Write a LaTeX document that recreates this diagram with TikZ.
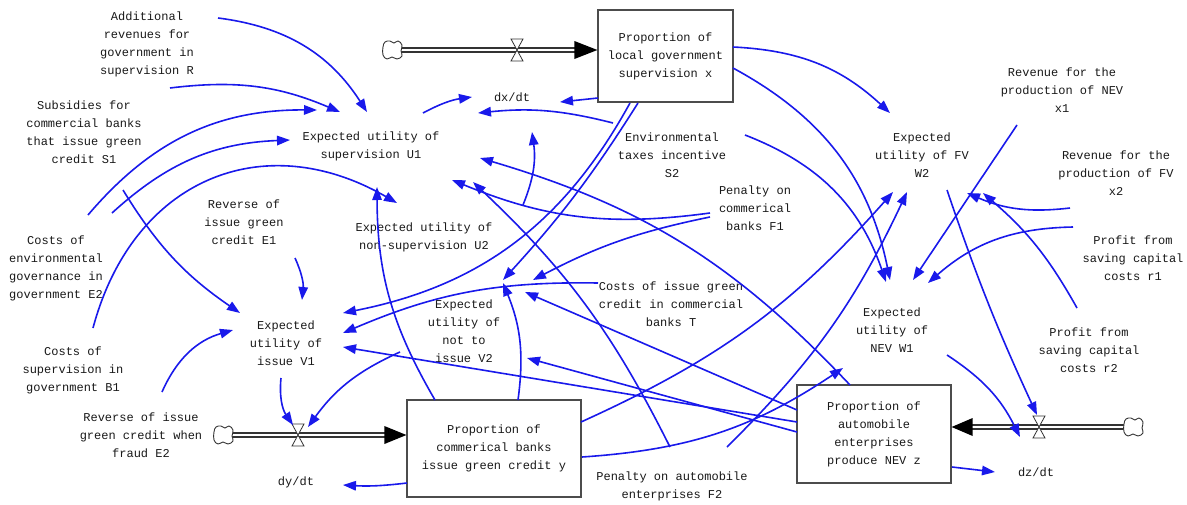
\documentclass[tikz,border=0pt]{standalone}
\usepackage{fontspec}
\setmonofont{Liberation Mono}
\usetikzlibrary{arrows.meta}
\definecolor{linkblue}{RGB}{25,25,235}
\begin{document}
\begin{tikzpicture}[x=1pt,y=1pt,
  lbl/.style={font=\ttfamily\fontsize{12}{18}\selectfont, align=center, inner sep=1pt, text=black!90},
  stock/.style={lbl, draw=black!70, line width=1.2pt, fill=white},
  link/.style={draw=linkblue, line width=1.6pt, -{Triangle[length=13pt,width=9.5pt]}},
  pipeline/.style={draw=black!80, line width=1.2pt},
  valvetri/.style={draw=black!80, fill=white, line width=0.8pt},
  cloudline/.style={draw=black!80, fill=white, line width=0.9pt},
  headfill/.style={fill=black}
]
\fill[white] (0,0) rectangle (1187,-504);
\useasboundingbox (0,0) rectangle (1187,-504);

% ---------- auxiliary labels ----------
\node[lbl] (R)   at (147,-44)  {Additional\\revenues for\\government in\\supervision R};
\node[lbl] (S1)  at (84,-132)  {Subsidies for\\commercial banks\\that issue green\\credit S1};
\node[lbl] (E2c) at (56,-268)  {Costs of\\environmental\\governance in\\government E2};
\node[lbl] (B1)  at (73,-370)  {Costs of\\supervision in\\government B1};
\node[lbl] (E2f) at (141,-435) {Reverse of issue\\green credit when\\fraud E2};
\node[lbl] (E1)  at (244,-222) {Reverse of\\issue green\\credit E1};
\node[lbl] (U1)  at (371,-146) {Expected utility of\\supervision U1};
\node[lbl] (U2)  at (424,-237) {Expected utility of\\non-supervision U2};
\node[lbl] (V1)  at (286,-343) {Expected\\utility of\\issue V1};
\node[lbl] (V2)  at (464,-331) {Expected\\utility of\\not to\\issue V2};
\node[lbl] (T)   at (671,-304) {Costs of issue green\\credit in commercial\\banks T};
\node[lbl] (S2)  at (672,-155) {Environmental\\taxes incentive\\S2};
\node[lbl] (F1)  at (755,-208) {Penalty on\\commerical\\banks F1};
\node[lbl] (F2)  at (672,-486) {Penalty on automobile\\enterprises F2};
\node[lbl] (W2)  at (922,-155) {Expected\\utility of FV\\W2};
\node[lbl] (x1)  at (1062,-90) {Revenue for the\\production of NEV\\x1};
\node[lbl] (x2)  at (1116,-173) {Revenue for the\\production of FV\\x2};
\node[lbl] (r1)  at (1133,-258) {Profit from\\saving capital\\costs r1};
\node[lbl] (r2)  at (1089,-350) {Profit from\\saving capital\\costs r2};
\node[lbl] (W1)  at (892,-330) {Expected\\utility of\\NEV W1};
\node[lbl] (dxdt) at (512,-97)  {dx/dt};
\node[lbl] (dydt) at (296,-482) {dy/dt};
\node[lbl] (dzdt) at (1036,-472) {dz/dt};

% ---------- stocks ----------
\node[stock, minimum width=135pt, minimum height=92pt] (X) at (665.5,-56) {Proportion of\\local government\\supervision x};
\node[stock, minimum width=174pt, minimum height=97pt] (Y) at (494,-448.5) {Proportion of\\commerical banks\\issue green credit y};
\node[stock, minimum width=154pt, minimum height=98pt] (Z) at (874,-434) {Proportion of\\automobile\\enterprises\\produce NEV z};

% ---------- flows ----------
\coordinate (cx) at (392,-50);
\coordinate (cy) at (223,-435);
\coordinate (cz) at (1133,-427);
\coordinate (vx) at (517,-50);
\coordinate (vy) at (298,-435);
\coordinate (vz) at (1039,-427);
\coordinate (xin) at (X.west |- cx);
\coordinate (yin) at (Y.west |- cy);
\coordinate (zin) at (Z.east |- cz);

\foreach \o in {2,-2}{
  \draw[pipeline] ([shift={(9,\o)}]cx) -- ([shift={(-20,\o)}]xin);
  \draw[pipeline] ([shift={(9,\o)}]cy) -- ([shift={(-20,\o)}]yin);
  \draw[pipeline] ([shift={(-9,\o)}]cz) -- ([shift={(19,\o)}]zin);
}
\fill[headfill] (xin) -- ++(-23,9) -- ++(0,-18) -- cycle;
\fill[headfill] (yin) -- ++(-22,9) -- ++(0,-18) -- cycle;
\fill[headfill] (zin) -- ++(21,9) -- ++(0,-18) -- cycle;

\foreach \c in {cx,cy,cz}{
  \begin{scope}[shift={(\c)}]
    \draw[cloudline] plot[smooth cycle, tension=0.7] coordinates {(-9,3) (-7,8) (-2,9) (2,7) (6,9) (10,5) (9,-1) (10,-6) (5,-9) (0,-7) (-5,-9) (-9,-5)};
  \end{scope}
}
\foreach \v in {vx,vy,vz}{
  \draw[valvetri] (\v) -- ++(-6,11) -- ++(12,0) -- cycle;
  \draw[valvetri] (\v) -- ++(-6,-11) -- ++(12,0) -- cycle;
}

% ---------- information links ----------
\draw[link] ([shift={(71,26)}]R.center) to[bend left=25] ([shift={(-4,34)}]U1.center);
\draw[link] ([shift={(23,-44)}]R.center) to[bend left=15] ([shift={(-31,34)}]U1.center);
\draw[link] ([shift={(32,53)}]E2c.center) to[bend left=25] ([shift={(-54,36)}]U1.center);
\draw[link] ([shift={(56,55)}]E2c.center) to[bend left=20] ([shift={(-81,6)}]U1.center);
\draw[link] ([shift={(20,42)}]B1.center) to[out=75,in=150,looseness=1.2] ([shift={(-27,34)}]U2.center);
\draw[link] ([shift={(39,-58)}]S1.center) to[bend right=12] ([shift={(-46,30)}]V1.center);
\draw[link] ([shift={(51,-36)}]E1.center) to[bend left=15] ([shift={(16,43)}]V1.center);
\draw[link] ([shift={(89,-22)}]B1.center) to[bend left=25] ([shift={(-53,13)}]V1.center);
\draw[link] ([shift={(-5,-35)}]V1.center) to[bend right=20] ([shift={(-5,10)}]vy);
\draw[link] ([shift={(-64,-21)}]V2.center) to[bend right=15] ([shift={(10,8)}]vy);
\draw[link] ([shift={(-87,-34.5)}]Y.center) to[bend left=5] ([shift={(47,-3)}]dydt.center);
\draw[link] ([shift={(-59,48.5)}]Y.center) to[bend left=15] ([shift={(6,-41)}]U1.center);
\draw[link] ([shift={(24,48.5)}]Y.center) to[bend right=15] ([shift={(39,48)}]V2.center);
\draw[link] ([shift={(87,26.5)}]Y.center) to[bend right=12] ([shift={(-29,-37)}]W2.center);
\draw[link] ([shift={(88,-8.5)}]Y.center) to[bend right=15] ([shift={(-49,-38)}]W1.center);
\draw[link] ([shift={(-67.5,-42)}]X.center) -- ([shift={(48,-5)}]dxdt.center);
\draw[link] ([shift={(52,33)}]U1.center) to[bend left=10] ([shift={(-40,0)}]dxdt.center);
\draw[link] ([shift={(-59,32)}]S2.center) to[bend right=10] ([shift={(-34,-16)}]dxdt.center);
\draw[link] ([shift={(99,32)}]U2.center) to[bend right=15] ([shift={(20,-35)}]dxdt.center);
\draw[link] ([shift={(-45,-5)}]F1.center) to[bend left=15] ([shift={(81,-34)}]U1.center);
\draw[link] ([shift={(-2,39)}]F2.center) to[bend right=10] ([shift={(102,-36)}]U1.center);
\draw[link] ([shift={(-24,49)}]Z.center) to[bend right=15] ([shift={(109,-12)}]U1.center);
\draw[link] ([shift={(-35.5,-47)}]X.center) to[bend left=25] ([shift={(57,30)}]V1.center);
\draw[link] ([shift={(-27.5,-47)}]X.center) to[bend left=5] ([shift={(39,51)}]V2.center);
\draw[link] ([shift={(-73,21)}]T.center) to[bend right=12] ([shift={(57,10)}]V1.center);
\draw[link] ([shift={(-45,-9)}]F1.center) to[bend right=8] ([shift={(69,51)}]V2.center);
\draw[link] ([shift={(-77,12)}]Z.center) -- ([shift={(57,-4)}]V1.center);
\draw[link] ([shift={(-77,2)}]Z.center) -- ([shift={(63,-27)}]V2.center);
\draw[link] ([shift={(-77,24)}]Z.center) -- ([shift={(61,39)}]V2.center);
\draw[link] ([shift={(67.5,9)}]X.center) to[bend left=20] ([shift={(-32,42)}]W2.center);
\draw[link] ([shift={(67.5,-12)}]X.center) to[bend left=25] ([shift={(-2,50)}]W1.center);
\draw[link] ([shift={(73,20)}]S2.center) to[bend left=25] ([shift={(-6,48)}]W1.center);
\draw[link] ([shift={(-45,-35)}]x1.center) -- ([shift={(21,50)}]W1.center);
\draw[link] ([shift={(-60,31)}]r1.center) to[bend right=20] ([shift={(36,47)}]W1.center);
\draw[link] ([shift={(-46,-35)}]x2.center) to[bend left=15] ([shift={(45,-38)}]W2.center);
\draw[link] ([shift={(-12,42)}]r2.center) to[bend right=10] ([shift={(61,-38)}]W2.center);
\draw[link] ([shift={(25,-35)}]W2.center) to[bend right=3] ([shift={(-2,12)}]vz);
\draw[link] ([shift={(55,-25)}]W1.center) to[bend left=15] ([shift={(-19,-10)}]vz);
\draw[link] ([shift={(78,-33)}]Z.center) -- ([shift={(-41,0)}]dzdt.center);
\draw[link] ([shift={(55,39)}]F2.center) to[bend right=10] ([shift={(-15,-37)}]W2.center);
\end{tikzpicture}
\end{document}
